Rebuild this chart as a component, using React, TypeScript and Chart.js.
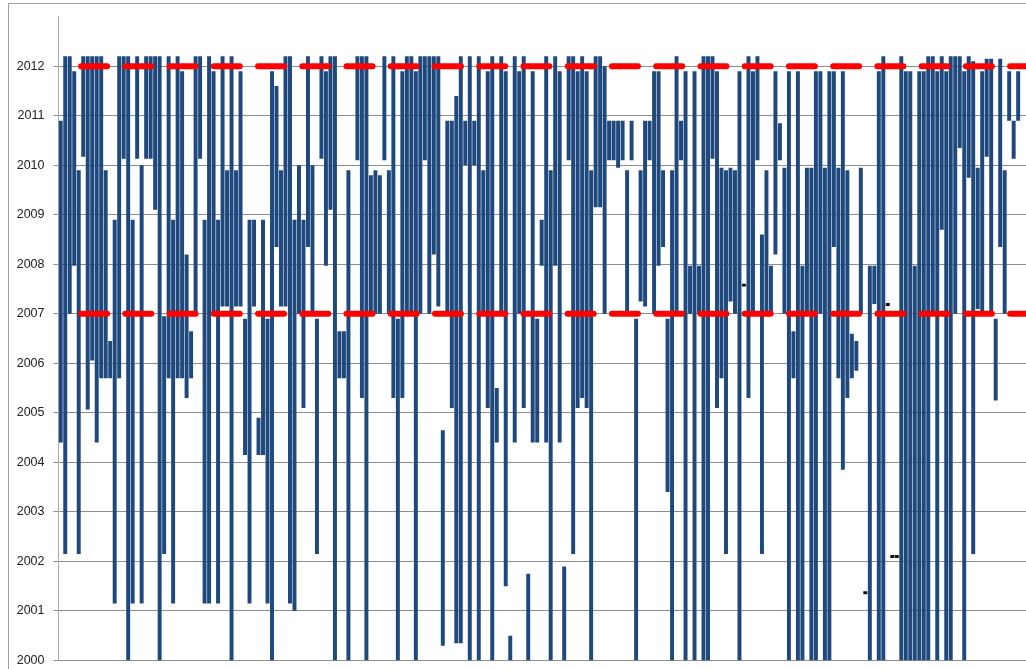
import { useEffect, useRef } from "react";
import { Chart, registerables } from "chart.js";

Chart.register(...registerables);

// Upper end (top) of each floating bar, one entry per category slot (null = empty slot)
const barTop: (number | null)[] = [
  2010.9, 2012.2, 2012.2, 2011.9, 2009.9, 2012.2, 2012.2, 2012.2, 2012.2, 2012.2,
  2009.9, 2006.45, 2008.9, 2012.2, 2012.2, 2012.2, 2008.9, 2012.2, 2010.0, 2012.2,
  2012.2, 2012.2, 2012.2, 2006.95, 2012.2, 2008.9, 2012.2, 2011.9, 2008.2, 2006.65,
  2012.2, 2012.2, 2008.9, 2012.2, 2011.9, 2008.9, 2012.2, 2009.9, 2012.2, 2009.9,
  2011.9, 2006.9, 2008.9, 2008.9, 2004.9, 2008.9, 2006.9, 2011.9, 2011.6, 2009.9,
  2012.2, 2012.2, 2008.9, 2010.0, 2008.9, 2012.2, 2010.0, 2006.9, 2012.2, 2011.9,
  2012.2, 2012.2, 2006.65, 2006.65, 2009.9, null, 2012.2, 2012.2, 2012.2, 2009.8,
  2009.9, 2009.8, 2012.2, 2009.9, 2012.2, 2006.9, 2011.9, 2012.2, 2012.2, 2011.9,
  2012.2, 2012.2, 2012.2, 2012.2, 2012.2, 2004.65, 2010.9, 2010.9, 2011.4, 2012.2,
  2010.9, 2012.2, 2010.9, 2012.2, 2009.9, 2011.9, 2012.2, 2005.5, 2012.2, 2011.9,
  2000.5, 2012.2, 2011.9, 2012.2, 2001.75, 2011.9, 2006.9, 2008.9, 2012.2, 2009.9,
  2012.2, 2011.9, 2001.9, 2012.2, 2012.2, 2011.9, 2012.2, 2011.9, 2009.9, 2012.2,
  2012.2, 2012.0, 2010.9, 2010.9, 2010.9, 2010.9, 2009.9, 2010.9, 2006.9, 2009.9,
  2010.9, 2010.9, 2011.9, 2011.9, 2009.9, 2006.9, 2009.9, 2012.2, 2010.9, 2011.9,
  2007.97, 2011.9, 2007.97, 2012.2, 2012.2, 2012.2, 2011.9, 2009.95, 2009.9, 2009.95,
  2009.9, 2011.9, null, 2012.2, 2011.9, 2012.2, 2008.6, 2009.9, 2007.97, 2011.9,
  2010.85, 2009.95, 2011.9, 2006.65, 2011.9, 2007.97, 2009.95, 2009.95, 2011.9, 2011.9,
  2009.95, 2011.9, 2011.9, 2009.95, 2011.9, 2009.9, 2006.6, 2006.45, 2009.95, null,
  2007.97, 2007.97, 2011.9, 2012.2, null, null, null, 2012.2, 2011.9, 2011.9,
  2007.97, 2011.9, 2011.9, 2012.2, 2012.2, 2011.9, 2012.2, 2011.9, 2012.2, 2012.2,
  2012.2, 2011.9, 2012.2, 2012.1, 2009.95, 2011.9, 2012.15, 2012.15, 2006.9, 2012.15,
  2009.9, 2011.9, 2010.9, 2011.9, null, null,
];

// Lower end (bottom) of each floating bar
const barBottom: (number | null)[] = [
  2004.4, 2002.15, 2007.0, 2007.97, 2002.15, 2010.17, 2005.07, 2006.06, 2004.4, 2005.7,
  2005.7, 2005.7, 2001.15, 2005.7, 2010.13, 2000, 2001.15, 2010.13, 2001.15, 2010.13,
  2010.13, 2009.1, 2000, 2002.15, 2005.7, 2001.15, 2005.7, 2005.7, 2005.3, 2005.7,
  2007.0, 2010.13, 2001.15, 2001.15, 2007.0, 2001.15, 2007.15, 2007.15, 2000, 2007.15,
  2007.15, 2004.15, 2001.15, 2007.15, 2004.15, 2004.15, 2001.15, 2000, 2008.35, 2007.15,
  2007.15, 2001.15, 2001.0, 2007.0, 2005.1, 2008.35, 2007.0, 2002.15, 2010.13, 2007.97,
  2009.1, 2000, 2005.7, 2005.7, 2000, null, 2010.1, 2005.3, 2000, 2007.0,
  2007.0, 2007.0, 2010.1, 2007.0, 2005.3, 2000, 2005.3, 2007.0, 2007.0, 2000,
  2007.0, 2010.1, 2007.0, 2008.2, 2007.15, 2000.3, 2007.0, 2005.1, 2000.35, 2000.35,
  2010.0, 2000, 2010.0, 2000, 2007.0, 2005.1, 2000, 2004.4, 2007.0, 2001.5,
  2000, 2004.4, 2007.0, 2005.1, 2000, 2004.4, 2004.4, 2007.97, 2004.4, 2000,
  2007.97, 2004.4, 2000, 2010.1, 2002.15, 2005.1, 2005.3, 2005.1, 2000, 2009.15,
  2009.15, 2007.0, 2010.1, 2010.1, 2009.95, 2010.1, 2007.0, 2010.1, 2000, 2007.25,
  2007.15, 2010.1, 2007.0, 2007.97, 2008.35, 2003.4, 2000, 2007.0, 2010.1, 2000,
  2007.0, 2000, 2007.0, 2000, 2000, 2010.13, 2005.1, 2005.7, 2002.15, 2007.25,
  2007.0, 2000, null, 2005.3, 2007.0, 2010.1, 2002.15, 2007.0, 2007.0, 2008.2,
  2010.1, 2007.0, 2000, 2005.7, 2000, 2000, 2007.0, 2000, 2000, 2007.0,
  2000, 2000, 2008.35, 2005.7, 2003.85, 2005.3, 2005.7, 2005.85, 2007.0, null,
  2000, 2007.2, 2000, 2000, null, null, null, 2000, 2000, 2000,
  2000, 2000, 2000, 2000, 2007.0, 2000, 2008.7, 2000, 2000, 2007.0,
  2010.35, 2000, 2009.75, 2002.15, 2007.1, 2007.0, 2010.17, 2007.0, 2005.25, 2008.35,
  2007.0, 2010.9, 2010.13, 2010.9, null, null,
];

// Tiny black marks in otherwise empty slots
const markerSlots = [152, 179, 184, 185, 186];
const markerYears = [2007.58, 2001.37, 2007.19, 2002.1, 2002.1];
const markerHalfSpan = 0.03;

// Red dashed reference levels (drawn from this slot to the last one)
const referenceYears = [2007, 2012];
const referenceStartSlot = 3;

const yMin = 2000;
const yMax = 2013;

export default function App() {
  const canvasRef = useRef<HTMLCanvasElement | null>(null);

  useEffect(() => {
    const canvas = canvasRef.current;
    if (!canvas) return;
    const n = barTop.length;
    const labels = barTop.map((_, i) => String(i + 1));
    const barData = barTop.map((t, i) =>
      t === null || barBottom[i] === null ? null : [barBottom[i] as number, t]
    );
    const markerData: ([number, number] | null)[] = labels.map(() => null);
    markerSlots.forEach((s, j) => {
      markerData[s] = [markerYears[j] - markerHalfSpan, markerYears[j] + markerHalfSpan];
    });

    const refDatasets = referenceYears.map((yv) => ({
      type: "line" as const,
      data: [
        { x: labels[referenceStartSlot], y: yv },
        { x: labels[n - 1], y: yv },
      ],
      borderColor: "#ff0000",
      borderWidth: 6,
      borderDash: [26, 18.24],
      borderDashOffset: 37.4,
      borderCapStyle: "round" as const,
      pointRadius: 0,
      fill: false,
      order: 0,
    }));

    const chart = new Chart(canvas, {
      type: "bar",
      data: {
        labels,
        datasets: [
          ...refDatasets,
          {
            type: "bar" as const,
            data: barData as any,
            backgroundColor: "#1f497d",
            borderWidth: 0,
            barPercentage: 0.88,
            categoryPercentage: 1,
            grouped: false,
            order: 2,
          },
          {
            type: "bar" as const,
            data: markerData as any,
            backgroundColor: "#111111",
            borderWidth: 0,
            barPercentage: 0.88,
            categoryPercentage: 1,
            grouped: false,
            order: 1,
          },
        ] as any,
      },
      options: {
        animation: false,
        responsive: false,
        maintainAspectRatio: false,
        layout: { padding: { left: 8.5, top: 16.7, right: 2.6, bottom: 9 } },
        plugins: {
          legend: { display: false },
          tooltip: { enabled: false },
        },
        scales: {
          x: {
            display: false,
            offset: true,
            grid: { display: false },
          },
          y: {
            min: yMin,
            max: yMax,
            ticks: {
              stepSize: 1,
              padding: 9,
              color: "#222222",
              font: { family: "Liberation Sans", size: 12.5 },
              callback: (v: any) => (Number(v) === yMax ? "" : String(v)),
            },
            grid: {
              color: (ctx: any) =>
                ctx.tick && ctx.tick.value === yMax ? "rgba(0,0,0,0)" : "#8e8e8e",
              tickLength: 5,
              lineWidth: 1,
            },
            border: { display: true, color: "#a8a8a8", width: 1 },
            afterFit: (scale: any) => {
              scale.width = 50;
            },
          },
        },
      } as any,
    });
    return () => chart.destroy();
  }, []);

  return (
    <div
      style={{
        position: "fixed",
        left: 0,
        top: 0,
        width: 1026,
        height: 669,
        overflow: "hidden",
        background: "#ffffff",
      }}
    >
      <div
        style={{
          position: "absolute",
          left: 8,
          top: 3,
          width: 1200,
          height: 800,
          border: "1px solid #a0a0a0",
          boxSizing: "border-box",
        }}
      />
      <canvas
        ref={canvasRef}
        width={1032}
        height={677}
        style={{ position: "absolute", left: 0, top: 0, width: 1032, height: 677 }}
      />
    </div>
  );
}
